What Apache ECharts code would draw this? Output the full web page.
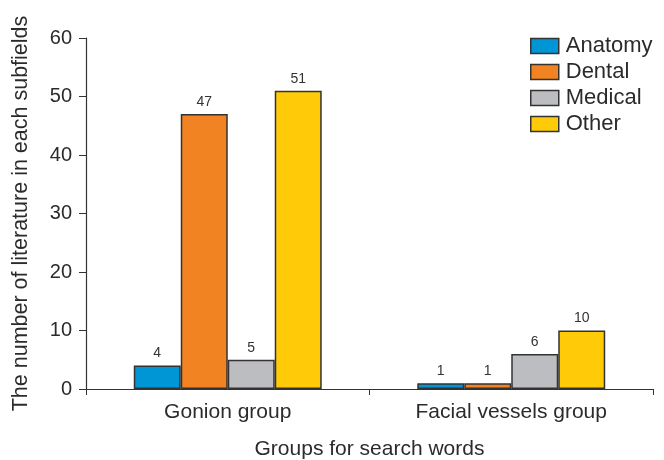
<!DOCTYPE html>
<html><head><meta charset="utf-8">
<script src="https://cdn.jsdelivr.net/npm/echarts@6/dist/echarts.min.js"></script>
<style>html,body{margin:0;padding:0;background:#fff}#c{width:664px;height:460px}</style>
</head><body><div id="c"></div>
<script>
const categories = ['Gonion group', 'Facial vessels group'];
const seriesNames = ['Anatomy', 'Dental', 'Medical', 'Other'];
const anatomy = [4, 1];
const dental = [47, 1];
const medical = [5, 6];
const other = [51, 10];
const yTicks = [0, 10, 20, 30, 40, 50, 60];
const colors = ['#0096D6', '#F28322', '#BCBDC0', '#FFCB08'];
const values = [anatomy, dental, medical, other];
const font = '"Liberation Sans", Arial, sans-serif';
const chart = echarts.init(document.getElementById('c'));
chart.setOption({
  animation: false,
  textStyle: { fontFamily: font },
  grid: { left: 86, right: 11, top: 38, bottom: 71, containLabel: false, outerBoundsMode: 'none' },
  legend: {
    orient: 'vertical', left: 525, top: 30, icon: 'rect',
    itemWidth: 28, itemHeight: 15, itemGap: 4,
    textStyle: { fontSize: 22, color: '#2b2b2b', fontFamily: font, lineHeight: 22, padding: [0, 0, 0, 2] },
    data: seriesNames.map((n, i) => ({ name: n, itemStyle: { color: colors[i], borderColor: '#333', borderWidth: 1.5 } }))
  },
  xAxis: {
    type: 'category', data: categories,
    name: 'Groups for search words', nameLocation: 'middle', nameGap: 50,
    nameTextStyle: { fontSize: 21, color: '#2b2b2b', fontFamily: font },
    axisLine: { lineStyle: { color: '#333', width: 1.2 } },
    axisTick: { show: true, alignWithLabel: false, length: 6, lineStyle: { color: '#333' } },
    axisLabel: { fontSize: 21, color: '#2b2b2b', margin: 13, fontFamily: font }
  },
  yAxis: {
    type: 'value', min: yTicks[0], max: yTicks[yTicks.length - 1], interval: 10,
    name: 'The number of literature in each subfields', nameLocation: 'middle', nameGap: 54,
    nameTextStyle: { fontSize: 21.5, color: '#2b2b2b', fontFamily: font },
    axisLine: { show: true, lineStyle: { color: '#333', width: 1.2 } },
    axisTick: { show: true, length: 7, lineStyle: { color: '#333' } },
    splitLine: { show: false },
    axisLabel: { fontSize: 20, color: '#2b2b2b', margin: 14, fontFamily: font }
  },
  series: seriesNames.map((n, i) => ({
    name: n, type: 'bar', data: values[i],
    barGap: '0%', barCategoryGap: '33.7%',
    itemStyle: { color: colors[i], borderColor: '#333', borderWidth: 1.5 },
    label: { show: true, position: 'top', fontSize: 14, color: '#333', distance: 5, fontFamily: font }
  }))
});
</script></body></html>
